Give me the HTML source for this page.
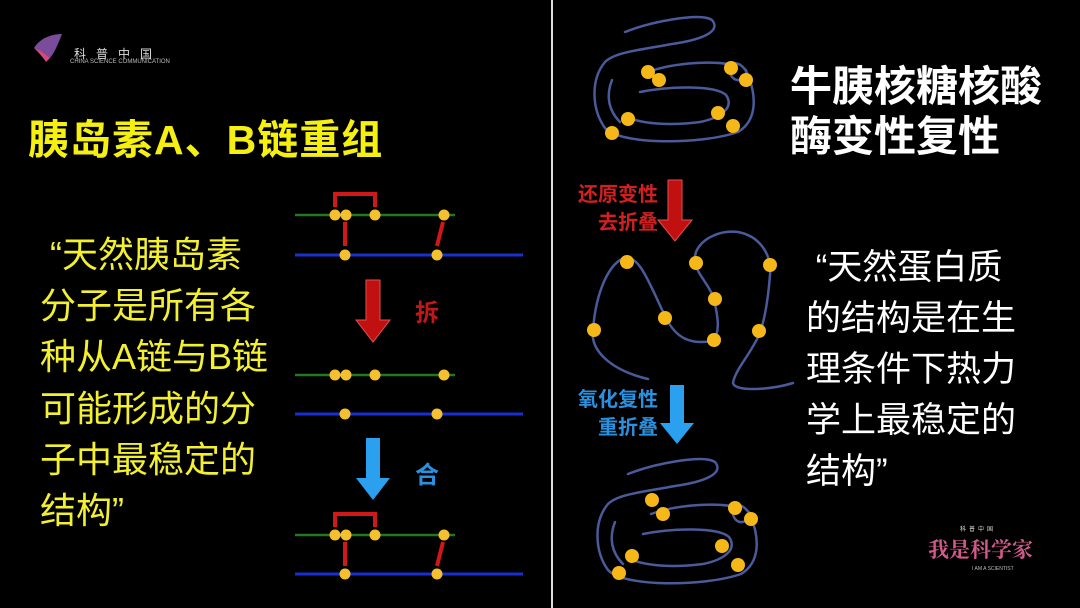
<!DOCTYPE html>
<html><head><meta charset="utf-8"><style>
html,body{margin:0;padding:0;background:#000;}
body{width:1080px;height:608px;overflow:hidden;position:relative;font-family:"Liberation Sans","Noto Sans CJK SC",sans-serif;}
.t{position:absolute;white-space:nowrap;}
</style></head><body>
<svg width="1080" height="608" style="position:absolute;left:0;top:0">
<line x1="552" y1="0" x2="552" y2="608" stroke="#ddd" stroke-width="2"/>
<path d="M34,48 C40,38 52,34 62,34 C58,44 55,52 50,58 C44,52 38,50 34,48Z" fill="#7a4c9a"/>
<path d="M34,48 C40,50 46,54 50,58 L46,62 C42,56 38,52 34,48Z" fill="#d04a7a"/>
<g stroke-linecap="butt">
<line x1="295" y1="215" x2="455" y2="215" stroke="#1f7a1f" stroke-width="2.5"/>
<line x1="295" y1="255" x2="523" y2="255" stroke="#1a2fd0" stroke-width="3"/>
<polyline points="335,207 335,194 375,194 375,207" fill="none" stroke="#d01818" stroke-width="4"/>
<line x1="345" y1="222" x2="345" y2="246" stroke="#d01818" stroke-width="4"/>
<line x1="443" y1="222" x2="437" y2="246" stroke="#d01818" stroke-width="4"/>
<g fill="#f5c030"><circle cx="335" cy="215" r="5.5"/><circle cx="346" cy="215" r="5.5"/><circle cx="375" cy="215" r="5.5"/><circle cx="444" cy="215" r="5.5"/><circle cx="345" cy="255" r="5.5"/><circle cx="437" cy="255" r="5.5"/></g>
<line x1="295" y1="375" x2="455" y2="375" stroke="#1f7a1f" stroke-width="2.5"/>
<line x1="295" y1="414" x2="523" y2="414" stroke="#1a2fd0" stroke-width="3"/>
<g fill="#f5c030"><circle cx="335" cy="375" r="5.5"/><circle cx="346" cy="375" r="5.5"/><circle cx="375" cy="375" r="5.5"/><circle cx="444" cy="375" r="5.5"/><circle cx="345" cy="414" r="5.5"/><circle cx="437" cy="414" r="5.5"/></g>
<g transform="translate(0,320)">
<line x1="295" y1="215" x2="455" y2="215" stroke="#1f7a1f" stroke-width="2.5"/>
<line x1="295" y1="254" x2="523" y2="254" stroke="#1a2fd0" stroke-width="3"/>
<polyline points="335,207 335,194 375,194 375,207" fill="none" stroke="#d01818" stroke-width="4"/>
<line x1="345" y1="222" x2="345" y2="246" stroke="#d01818" stroke-width="4"/>
<line x1="443" y1="222" x2="437" y2="246" stroke="#d01818" stroke-width="4"/>
<g fill="#f5c030"><circle cx="335" cy="215" r="5.5"/><circle cx="346" cy="215" r="5.5"/><circle cx="375" cy="215" r="5.5"/><circle cx="444" cy="215" r="5.5"/><circle cx="345" cy="254" r="5.5"/><circle cx="437" cy="254" r="5.5"/></g>
</g>
</g>
<polygon points="366,280 380,280 380,320 390,320 373,342 356,320 366,320" fill="#c01010" stroke="#e05050" stroke-width="1"/>
<polygon points="366,438 380,438 380,478 390,478 373,500 356,478 366,478" fill="#2aa0ee"/>
<polygon points="668,180 682,180 682,220 692,220 675,241 658,220 668,220" fill="#c01010" stroke="#e05050" stroke-width="1"/>
<polygon points="670,385 684,385 684,423 694,423 677,444 660,423 670,423" fill="#2aa0ee"/>
<g fill="none" stroke="#4a5a9a" stroke-width="2.5" stroke-linecap="round">
<g id="blob">
<path d="M625,32 C650,22 700,12 712,20 C722,32 700,40 672,44 C640,50 615,52 605,62 C590,80 592,110 605,128 C620,145 700,145 738,132 C758,120 756,95 748,75"/>
<path d="M748,75 C742,60 728,60 730,72 C732,84 748,82 746,70"/>
<path d="M648,72 C675,62 720,60 735,66"/>
<path d="M640,92 C670,86 715,85 726,95 C735,108 720,118 700,122 C670,126 640,124 625,116"/>
<path d="M612,80 C606,95 608,110 620,122"/>
</g>
<path d="M648,379 C610,370 590,350 593,330 C596,290 610,262 625,258 C640,254 652,290 666,318 C676,338 690,345 713,341 C722,330 716,310 714,299 C708,280 690,270 696,252 C702,238 720,230 738,232 C760,236 772,255 770,275 C768,300 765,320 759,335 C750,355 735,370 733,383 C735,392 770,390 793,383"/>
<use href="#blob" transform="translate(3,442)"/>
</g>
<g fill="#f5b818">
<circle cx="648" cy="72" r="7"/><circle cx="659" cy="80" r="7"/><circle cx="731" cy="68" r="7"/><circle cx="746" cy="80" r="7"/><circle cx="628" cy="119" r="7"/><circle cx="612" cy="133" r="7"/><circle cx="718" cy="113" r="7"/><circle cx="733" cy="126" r="7"/>
<circle cx="627" cy="262" r="7"/><circle cx="594" cy="330" r="7"/><circle cx="665" cy="318" r="7"/><circle cx="696" cy="263" r="7"/><circle cx="715" cy="299" r="7"/><circle cx="714" cy="340" r="7"/><circle cx="770" cy="265" r="7"/><circle cx="759" cy="331" r="7"/>
<circle cx="652" cy="500" r="7"/><circle cx="663" cy="514" r="7"/><circle cx="735" cy="508" r="7"/><circle cx="751" cy="519" r="7"/><circle cx="632" cy="556" r="7"/><circle cx="619" cy="573" r="7"/><circle cx="722" cy="546" r="7"/><circle cx="738" cy="565" r="7"/>
</g>
</svg>
<div class="t" style="left:74px;top:45px;color:#ddd;font-size:12px;letter-spacing:10px">科普中国</div>
<div class="t" style="left:70px;top:59px;color:#bbb;font-size:6px">CHINA SCIENCE COMMUNICATION</div>
<div class="t" style="left:28px;top:106px;color:#f5f010;font-size:41px;font-weight:bold;letter-spacing:1px">胰岛素A、B链重组</div>
<div class="t" style="left:40px;top:229px;color:#f2f030;font-size:36px;line-height:51.2px">&nbsp;“天然胰岛素<br>分子是所有各<br>种从A链与B链<br>可能形成的分<br>子中最稳定的<br>结构”</div>
<div class="t" style="left:415px;top:293px;color:#c01818;font-size:24px;font-weight:bold">拆</div>
<div class="t" style="left:415px;top:455px;color:#2a90e0;font-size:24px;font-weight:bold">合</div>
<div class="t" style="left:790px;top:62px;color:#fff;font-size:42px;font-weight:bold;line-height:50px">牛胰核糖核酸<br>酶变性复性</div>
<div class="t" style="left:806px;top:242px;color:#fff;font-size:35px;line-height:51px">&nbsp;“天然蛋白质<br>的结构是在生<br>理条件下热力<br>学上最稳定的<br>结构”</div>
<div class="t" style="left:560px;top:181px;color:#d02020;font-size:20px;font-weight:bold;line-height:28px;text-align:right;width:98px">还原变性<br>去折叠</div>
<div class="t" style="left:560px;top:386px;color:#2a90e0;font-size:20px;font-weight:bold;line-height:28px;text-align:right;width:98px">氧化复性<br>重折叠</div>
<div class="t" style="left:960px;top:524px;color:#ddd;font-size:6px;letter-spacing:3px">科普中国</div>
<div class="t" style="left:928px;top:534px;color:#d05a8a;font-size:21px;font-weight:bold;font-family:'Noto Serif CJK SC',serif">我是科学家</div>
<div class="t" style="left:972px;top:566px;color:#bbb;font-size:5px">I AM A SCIENTIST</div>
</body></html>
